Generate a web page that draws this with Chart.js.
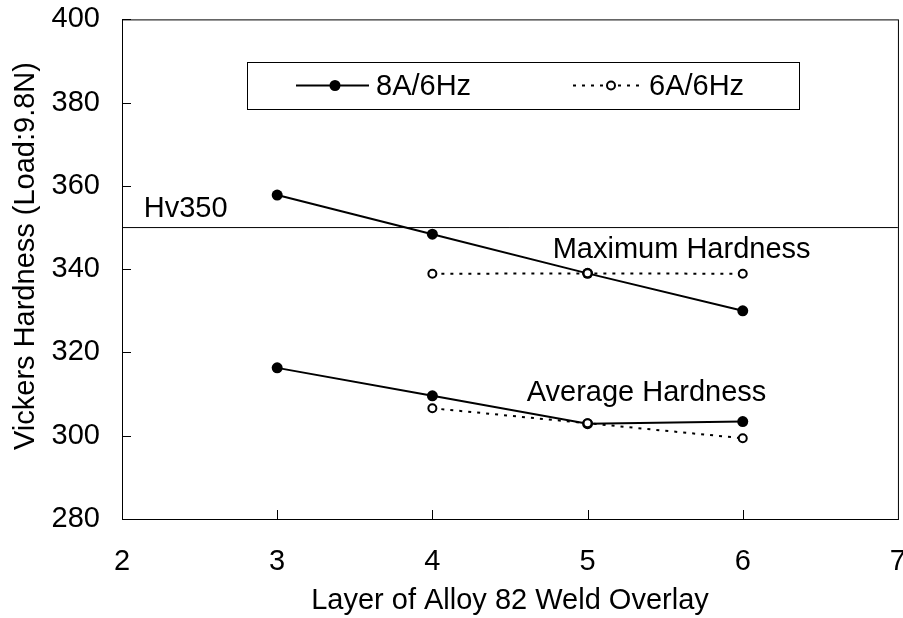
<!DOCTYPE html>
<html>
<head>
<meta charset="utf-8">
<script src="https://cdn.jsdelivr.net/npm/chart.js@4.4.0/dist/chart.umd.min.js"></script>
<style>
  html, body { margin: 0; padding: 0; background: #fff; overflow: hidden; }
  canvas { display: block; margin-top: -12px; }
</style>
</head>
<body>
<canvas id="chart" width="924" height="630"></canvas>
<script>
// Layer numbers
const layers = [3, 4, 5, 6];
const layers6A = [4, 5, 6];
// 8A/6Hz
const max8A = [357.8, 348.4, 339.0, 330.0];
const avg8A = [316.3, 309.6, 302.9, 303.4];
// 6A/6Hz
const max6A = [338.9, 339.0, 338.9];
const avg6A = [306.6, 303.0, 299.4];
// Hv350 reference line
const limitX = [2, 7];
const limitY = [350, 350];
// y axis ticks
const yTicks = [280, 300, 320, 340, 360, 380, 400];

const notes = [
    {text: 'Hv350', x: 2.41, y: 354.4},
    {text: 'Maximum Hardness', x: 5.606, y: 344.5},
    {text: 'Average Hardness', x: 5.38, y: 310.2}
];

const FONT = '"Liberation Sans", Arial, sans-serif';
const FS = 29;

function pts(xs, ys) {
    return xs.map((x, i) => ({x: x, y: ys[i]}));
}

const solid = {
    borderColor: '#000', backgroundColor: '#000', borderWidth: 2,
    pointRadius: 5.5, pointBackgroundColor: '#000', pointBorderWidth: 0,
    fill: false, tension: 0
};
const dotted = {
    borderColor: '#000', backgroundColor: '#fff', borderWidth: 2, borderDash: [3, 6],
    pointRadius: 4, pointBackgroundColor: '#fff', pointBorderColor: '#000', pointBorderWidth: 2,
    fill: false, tension: 0
};

// frame, inner ticks, text labels and legend box
const decor = {
    id: 'decor',
    afterDraw(chart) {
        const c = chart.ctx;
        const a = chart.chartArea;
        const sx = chart.scales.x, sy = chart.scales.y;
        c.save();
        c.strokeStyle = '#000';
        c.lineWidth = 1;
        c.strokeRect(a.left + 0.5, a.top + 0.5, a.right - a.left, a.bottom - a.top);
        // inner ticks
        c.beginPath();
        yTicks.forEach(v => {
            const y = Math.round(sy.getPixelForValue(v)) + 0.5;
            c.moveTo(a.left, y); c.lineTo(a.left + 9, y);
        });
        for (let v = 3; v <= 6; v++) {
            const x = Math.round(sx.getPixelForValue(v)) + 0.5;
            c.moveTo(x, a.bottom); c.lineTo(x, a.bottom - 9);
        }
        c.stroke();

        c.fillStyle = '#000';
        c.font = FS + 'px ' + FONT;
        c.textBaseline = 'middle';
        c.textAlign = 'center';
        notes.forEach(n => {
            c.fillText(n.text, sx.getPixelForValue(n.x), sy.getPixelForValue(n.y));
        });

        // y axis title (canvas is shifted up by 12px)
        c.save();
        c.translate(26, 268);
        c.rotate(-Math.PI / 2);
        c.fillText('Vickers Hardness (Load:9.8N)', 0, 0);
        c.restore();

        // legend
        const bx1 = Math.round(sx.getPixelForValue(2.805)), bx2 = Math.round(sx.getPixelForValue(6.362));
        const by1 = Math.round(sy.getPixelForValue(389.7)), by2 = Math.round(sy.getPixelForValue(378.4));
        c.fillStyle = '#fff';
        c.fillRect(bx1, by1, bx2 - bx1, by2 - by1);
        c.strokeRect(bx1 + 0.5, by1 + 0.5, bx2 - bx1, by2 - by1);
        const ly = (by1 + by2) / 2;
        // solid sample
        c.lineWidth = 2;
        c.beginPath(); c.moveTo(bx1 + 49, ly); c.lineTo(bx1 + 122, ly); c.stroke();
        c.fillStyle = '#000';
        c.beginPath(); c.arc(bx1 + 88, ly, 5.5, 0, Math.PI * 2); c.fill();
        // dotted sample
        c.setLineDash([3, 6]);
        c.beginPath(); c.moveTo(bx1 + 326, ly); c.lineTo(bx1 + 396, ly); c.stroke();
        c.setLineDash([]);
        c.fillStyle = '#fff';
        c.beginPath(); c.arc(bx1 + 364, ly, 4, 0, Math.PI * 2); c.fill(); c.stroke();
        c.fillStyle = '#000';
        c.textAlign = 'left';
        c.fillText('8A/6Hz', bx1 + 129, ly + 1);
        c.fillText('6A/6Hz', bx1 + 402, ly + 1);
        c.restore();
    }
};

const chart = new Chart(document.getElementById('chart'), {
    type: 'scatter',
    data: {
        datasets: [
            Object.assign({label: 'Hv350', data: pts(limitX, limitY), showLine: true,
                borderColor: '#000', borderWidth: 1, pointRadius: 0, fill: false}),
            Object.assign({label: '6A/6Hz max', data: pts(layers6A, max6A), showLine: true}, dotted),
            Object.assign({label: '6A/6Hz avg', data: pts(layers6A, avg6A), showLine: true}, dotted),
            Object.assign({label: '8A/6Hz max', data: pts(layers, max8A), showLine: true}, solid),
            Object.assign({label: '8A/6Hz avg', data: pts(layers, avg8A), showLine: true}, solid)
        ]
    },
    options: {
        responsive: false,
        animation: false,
        devicePixelRatio: 1,
        layout: {padding: {left: 0, top: 19, right: 0, bottom: 0}},
        plugins: {legend: {display: false}, tooltip: {enabled: false}},
        scales: {
            x: {
                type: 'linear', min: 2, max: 7,
                grid: {display: false},
                border: {display: false},
                afterFit(axis) { axis.height = 99; },
                ticks: {stepSize: 1, color: '#000', font: {family: FONT, size: FS}, padding: 18, maxRotation: 0},
                title: {display: true, text: 'Layer of Alloy 82 Weld Overlay', color: '#000',
                    font: {family: FONT, size: FS}, padding: {top: 0, bottom: 0}}
            },
            y: {
                min: 280, max: 400,
                grid: {display: false},
                border: {display: false},
                afterFit(axis) { axis.width = 122; },
                afterBuildTicks(axis) { axis.ticks = yTicks.map(v => ({value: v})); },
                ticks: {color: '#000', font: {family: FONT, size: FS}, padding: 14}
            }
        }
    },
    plugins: [decor]
});
</script>
</body>
</html>
